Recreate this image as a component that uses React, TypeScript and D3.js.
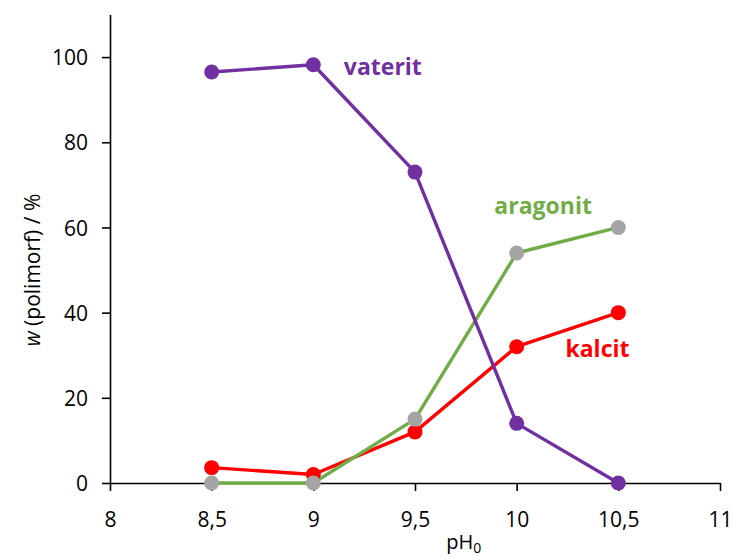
import { useEffect, useRef } from 'react';
import * as d3 from 'd3';

const phValues = [8.5, 9, 9.5, 10, 10.5];
const vaterit = [96.5, 98.2, 73, 14, 0];
const aragonit = [0, 0, 15, 54, 60];
const kalcit = [3.6, 2, 12, 32, 40];
const xTicks = [8, 8.5, 9, 9.5, 10, 10.5, 11];
const yTicks = [0, 20, 40, 60, 80, 100];

const FONT = "'Open Sans', 'Liberation Sans', sans-serif";

export default function App() {
  const svgRef = useRef<SVGSVGElement>(null);

  useEffect(() => {
    if (!svgRef.current) return;
    const svg = d3.select(svgRef.current);
    svg.selectAll('*').remove();

    const x = d3.scaleLinear().domain([8, 11]).range([110, 720]);
    const y = d3.scaleLinear().domain([0, 110]).range([483, 14.5]);

    // axes
    const xAxis = svg.append('g').attr('transform', `translate(0,${y(0)})`)
      .call(d3.axisBottom(x).tickValues(xTicks).tickSize(8).tickSizeOuter(0)
        .tickFormat((d) => String(d).replace('.', ',')));
    const yAxis = svg.append('g').attr('transform', `translate(${x(8)},0)`)
      .call(d3.axisLeft(y).tickValues(yTicks).tickSize(8).tickSizeOuter(0));
    [xAxis, yAxis].forEach((a) => {
      a.select('.domain').attr('stroke', '#000').attr('stroke-width', 1.6);
      a.selectAll('.tick line').attr('stroke', '#000').attr('stroke-width', 1.6);
      a.selectAll('.tick text').attr('fill', '#000').attr('font-family', FONT).attr('font-size', 21);
    });
    xAxis.selectAll('.tick text').attr('dy', '0').attr('y', 44);
    yAxis.selectAll('.tick text').attr('x', -22).attr('dy', '0.36em');

    const series = [
      { data: kalcit, line: '#ff0000', dot: '#ff0000' },
      { data: aragonit, line: '#70ad47', dot: '#a5a5a5' },
      { data: vaterit, line: '#7030a0', dot: '#7030a0' },
    ];
    const line = d3.line<number>().x((_, i) => x(phValues[i])).y((d) => y(d));
    series.forEach((s) => {
      svg.append('path').attr('d', line(s.data)).attr('fill', 'none')
        .attr('stroke', s.line).attr('stroke-width', 3.4).attr('stroke-linejoin', 'round');
    });
    series.forEach((s) => {
      svg.append('g').selectAll('circle').data(s.data).join('circle')
        .attr('cx', (_, i) => x(phValues[i])).attr('cy', (d) => y(d)).attr('r', 7.5)
        .attr('fill', s.dot);
    });

    // series labels
    const labels = [
      { text: 'vaterit', x: 9.15, y: 95.8, color: '#7030a0' },
      { text: 'aragonit', x: 9.89, y: 63.2, color: '#70ad47' },
      { text: 'kalcit', x: 10.24, y: 29.6, color: '#ff0000' },
    ];
    svg.append('g').selectAll('text').data(labels).join('text')
      .attr('x', (d) => x(d.x)).attr('y', (d) => y(d.y))
      .attr('font-family', FONT).attr('font-weight', 700).attr('font-size', 23)
      .attr('fill', (d) => d.color).text((d) => d.text);

    // axis titles
    const yt = svg.append('text').attr('transform', `translate(40,${y(50)}) rotate(-90)`)
      .attr('text-anchor', 'middle').attr('font-family', FONT).attr('font-size', 21).attr('fill', '#000');
    yt.append('tspan').attr('font-style', 'italic').text('w');
    yt.append('tspan').text(' (polimorf) / %');

    const xt = svg.append('text').attr('x', x(9.74)).attr('y', 549)
      .attr('text-anchor', 'middle').attr('font-family', FONT).attr('font-size', 20).attr('fill', '#000');
    xt.append('tspan').text('pH');
    xt.append('tspan').attr('font-size', 14).attr('dy', 4).text('0');
  }, []);

  return (
    <svg ref={svgRef} width={734} height={558}
      style={{ position: 'absolute', left: 0, top: 0, background: '#fff' }} />
  );
}
